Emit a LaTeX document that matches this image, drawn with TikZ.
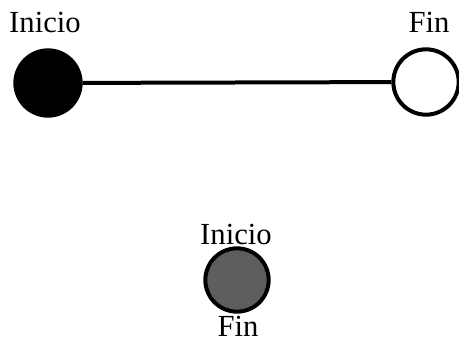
\documentclass[tikz,border=0pt]{standalone}
\usepackage{fontspec}
\setmainfont{Liberation Serif}
\definecolor{midgray}{HTML}{5E5E5E}
\tikzset{
  state/.style={circle, draw=black, line width=3pt, minimum size=49pt, inner sep=0pt},
  lbl/.style={anchor=base, inner sep=0pt, text depth=0pt, font=\fontsize{23}{27}\selectfont},
  conn/.style={line width=3pt}
}
\begin{document}
\begin{tikzpicture}[x=0.75pt,y=-0.75pt]
\useasboundingbox (0,0) rectangle (459,341);
\node[state, fill=black] (ini) at (48,83) {};
\node[state, fill=white] (fin) at (426,82) {};
\node[state, fill=midgray, minimum size=47.5pt] (both) at (237,280) {};
\draw[conn] (ini) -- (fin);
\node[lbl] (tini) at (45,33) {Inicio};
\node[lbl] (tfin) at (429,33) {Fin};
\node[lbl] (bini) at (236,245) {Inicio};
\node[lbl] (bfin) at (238,336) {Fin};
\end{tikzpicture}
\end{document}
